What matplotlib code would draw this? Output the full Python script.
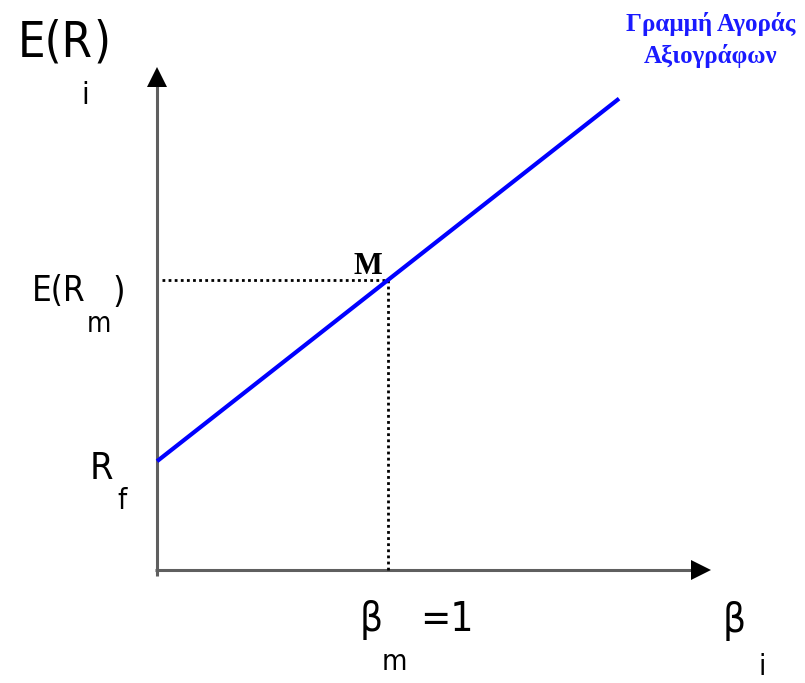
import matplotlib
matplotlib.use('Agg')
import matplotlib.pyplot as plt

# Γραμμή Αγοράς Αξιογράφων (SML) - τιμές σε αυθαίρετες μονάδες
beta_sml = [0, 1, 2]
ret_sml = [3, 8, 13]
beta_m = 1
ret_m = 8
rf = 3

sans = ['DejaVu Sans']
serif = ['Liberation Serif', 'DejaVu Serif']
cond = dict(family=sans, fontstretch='condensed', ha='center', va='center')

fig = plt.figure(figsize=(8.05, 6.83), dpi=100)
ax = fig.add_axes([0, 0, 1, 1])
ax.set_xlim(-0.68, 2.805)
ax.set_ylim(-3.117, 15.72)
ax.axis('off')

# axes with arrows
axis_col = '#5f5f5f'
ax.plot([0, 0], [-0.17, 13.4], color=axis_col, lw=2.2, solid_capstyle='butt')
ax.plot([-0.01, 2.31], [0, 0], color=axis_col, lw=2.2, solid_capstyle='butt')
ax.plot([0], [13.6], marker='^', color='black', markersize=15, markeredgewidth=0)
ax.plot([2.355], [0], marker='>', color='black', markersize=15, markeredgewidth=0)

# dotted guides at M
ax.plot([0.02, beta_m], [ret_m, ret_m], color='black', lw=2, linestyle=(0, (1, 1.2)))
ax.plot([beta_m, beta_m], [ret_m, 0], color='black', lw=2, linestyle=(0, (1, 1.2)))

# SML
ax.plot(beta_sml, ret_sml, color='#0000ff', lw=3, solid_capstyle='butt')

# labels
ax.text(-0.605, 14.54, 'E(R', fontsize=35, **{**cond, 'ha': 'left'})
ax.text(-0.24, 14.54, ')', fontsize=35, **cond)
ax.text(-0.31, 13.08, 'i', fontsize=22, **cond)

ax.text(-0.312, 7.70, 'E(R', fontsize=25, **{**cond, 'ha': 'right'})
ax.text(-0.165, 7.67, ')', fontsize=26, **cond)
ax.text(-0.25, 6.78, 'm', fontsize=20, **cond)

ax.text(-0.19, 2.79, 'R', fontsize=27, **{**cond, 'ha': 'right'})
ax.text(-0.152, 1.90, 'f', fontsize=21, **cond)

ax.text(0.974, 7.98, 'M', fontsize=22, family=serif, fontweight='bold', ha='right', va='bottom')

ax.text(0.926, -1.38, 'β', fontsize=29, **cond)
ax.text(1.026, -2.54, 'm', fontsize=21, **cond)
ax.text(1.139, -1.38, '=1', fontsize=29, **{**cond, 'ha': 'left'})

ax.text(2.498, -1.41, 'β', fontsize=29, **cond)
ax.text(2.619, -2.68, 'i', fontsize=21, **cond)

ax.text(2.398, 14.62, 'Γραμμή Αγοράς\nΑξιογράφων', fontsize=18, family=serif,
        fontweight='bold', color='#1a1aff', ha='center', va='center', linespacing=1.4)

fig.savefig('out.png', dpi=100)
